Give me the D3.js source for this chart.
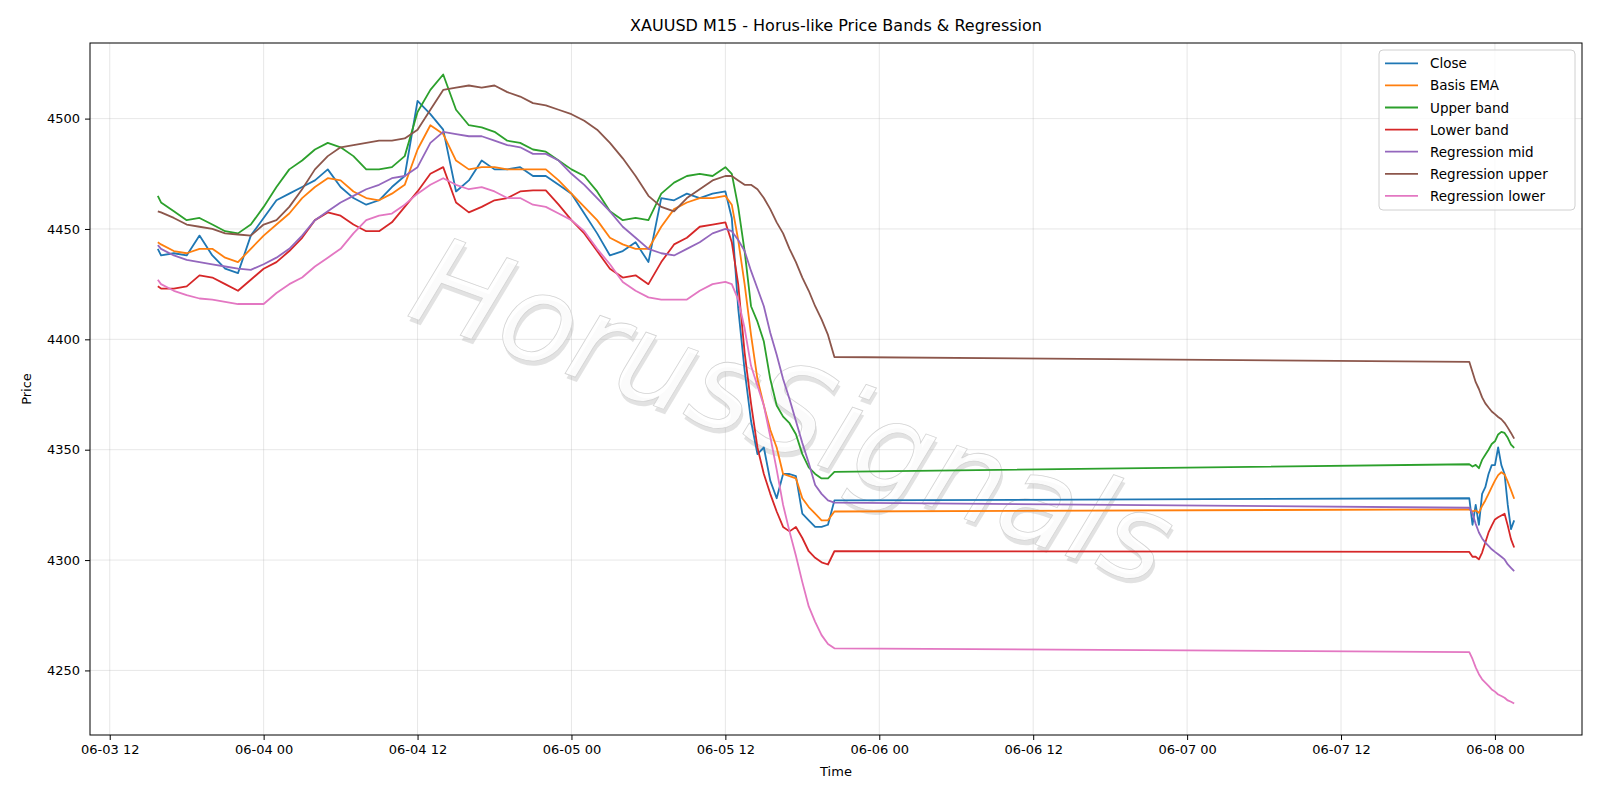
<!DOCTYPE html>
<html><head><meta charset="utf-8">
<script src="https://cdn.jsdelivr.net/npm/d3@7"></script>
<style>body{margin:0;background:#fff}svg{font-family:"DejaVu Sans",sans-serif}</style>
</head><body><svg id="c" width="1600" height="800"></svg>
<script>
// ---- data ----
const seriesNames = ["Close","Basis EMA","Upper band","Lower band","Regression mid","Regression upper","Regression lower"];
const seriesColors = ["#1f77b4","#ff7f0e","#2ca02c","#d62728","#9467bd","#8c564b","#e377c2"];
const xTickLabels = ["06-03 12","06-04 00","06-04 12","06-05 00","06-05 12","06-06 00","06-06 12","06-07 00","06-07 12","06-08 00"];
const yTicks = [4250,4300,4350,4400,4450,4500];
// segment 1: 06-03 15:45, hourly 16:00..06-05 12:00, half-hourly to 20:30 ; segment 2: 06-07 22:00..06-08 01:30 every 15 min
const seg1Start = "2025-06-03T15:45", seg1Hourly = ["2025-06-03T16:00","2025-06-05T12:00"], seg1Half = ["2025-06-05T12:30","2025-06-05T20:30"];
const seg2Range = ["2025-06-07T22:00","2025-06-08T01:30"];

const closeV = [4441,4438,4439,4438,4447,4438,4432,4430,4447,4455,4463,4466,4469,4472,4477,4469,4464,4461,4463,4469,4474,4508,4502,4495,4467,4472,4481,4477,4477,4478,4474,4474,4470,4466,4457,4448,4438,4440,4444,4435,4464,4463,4466,4464,4466,4467,
 4455,4414,4386,4363,4348,4351,4336,4328,4339,4339,4338,4321,4318,4315,4315,4316,4327,
 4328,4316,4325,4316,4330,4333,4339,4343,4343,4351,4343,4339,4325,4314,4318];
const basisV = [4444,4443,4440,4439,4441,4441,4437,4435,4441,4447,4452,4457,4464,4469,4473,4472,4467,4464,4463,4466,4470,4486,4497,4493,4481,4477,4478,4478,4477,4477,4477,4477,4472,4466,4460,4454,4446,4443,4441,4441,4451,4459,4462,4464,4464,4465,
 4461,4445,4425,4402,4382,4370,4359,4351,4339,4338,4337,4328,4324,4321,4318,4318,4322,
 4323,4322,4322.5,4321.4,4324.5,4327,4330,4333,4336,4338.5,4339.8,4338.8,4335.5,4331.7,4327.8];
const upperV = [4465,4462,4458,4454,4455,4452,4449,4448,4452,4460,4469,4477,4481,4486,4489,4487,4483,4477,4477,4478,4483,4503,4513,4520,4504,4497,4496,4494,4490,4489,4486,4485,4481,4477,4474,4467,4458,4454,4455,4454,4466,4471,4474,4475,4474,4478,
 4475,4460,4440,4415,4408,4399,4382,4370,4365,4362,4357,4348,4342,4339,4337,4337,4340,
 4343.4,4342.4,4343.1,4341.6,4345.4,4347.7,4350,4352.6,4353.8,4356.9,4358.1,4357.6,4355.4,4352.3,4350.8];
const lowerV = [4424,4423,4423,4424,4429,4428,4425,4422,4427,4432,4435,4440,4446,4454,4457.5,4456,4452,4449,4449,4453,4460,4467,4475,4478,4462,4457.5,4460,4463,4464,4467,4467.5,4467.5,4461,4454,4448,4440,4432,4428,4429,4425,4435,4443,4446,4451,4452,4453,
 4444,4425,4394,4371,4351,4339,4330,4322,4315,4313,4315,4310,4304,4301,4299,4298,4304,
 4303.7,4301.5,4301.5,4300.3,4303.4,4308,4312.5,4315.6,4318.4,4319.4,4320.2,4321,4315.6,4309.5,4305.7];
const regMidV = [4442.7,4441,4438,4436,4435,4434,4433,4432,4431.5,4434,4437,4441,4447,4454,4458,4462,4465,4468,4470,4473,4474,4478,4489,4494,4493,4492,4492,4490,4488,4487,4484,4484,4481,4475,4470,4464,4458,4451,4446,4441,4439,4438,4441,4444,4448,4450,
 4449,4445,4440,4431,4423,4415,4403,4393,4382,4373,4363,4353,4344,4334,4330,4327,4326,
 4323.7,4321,4316.4,4312.5,4309.8,4307.9,4306.4,4304.9,4303.7,4302.6,4301.5,4300.3,4298,4296.5,4295];
const regUpV = [4458,4457.5,4455,4452,4451,4450,4448,4447.5,4447,4452,4454,4460,4468,4477,4483,4487,4488,4489,4490,4490,4491,4495,4504,4513,4514,4515,4514,4515,4512,4510,4507,4506,4504,4502,4499,4495,4489,4482,4474,4465,4460,4458,4464,4468,4472,4474,
 4474,4472,4470,4470,4468,4464,4459,4453,4448,4441,4435,4428,4422,4415,4409,4402,4392,
 4389.8,4385.2,4380.6,4377.5,4373.7,4371,4369.1,4367.3,4366.1,4364.8,4363.8,4362.2,4360,4357.6,4355];
const regLoV = [4427,4425,4422,4420,4418.5,4418,4417,4416,4416,4416,4421,4425,4428,4433,4437,4441,4448,4454,4456,4457,4461,4466,4470,4473,4470,4468,4469,4467,4464,4464,4461,4460,4457,4454,4449,4441,4434,4426,4422,4419,4418,4418,4418,4422,4425,4426,
 4425,4418,4405,4388,4379,4370,4356,4341,4325,4313,4302,4290,4279,4272,4266,4262,4260,
 4258.3,4255.2,4251.4,4248.3,4246,4244.5,4243,4241.4,4240.4,4239.1,4238.4,4237.6,4236.4,4235.8,4235];
const allValues = [closeV,basisV,upperV,lowerV,regMidV,regUpV,regLoV];

// ---- times ----
const P = d3.timeParse("%Y-%m-%dT%H:%M");
const times = [P(seg1Start)]
  .concat(d3.timeHour.range(P(seg1Hourly[0]), d3.timeMinute.offset(P(seg1Hourly[1]),1)))
  .concat(d3.timeMinute.every(30).range(P(seg1Half[0]), d3.timeMinute.offset(P(seg1Half[1]),1)))
  .concat(d3.timeMinute.every(15).range(P(seg2Range[0]), d3.timeMinute.offset(P(seg2Range[1]),1)));

// ---- layout ----
const svg = d3.select("#c");
const L=90, R=1582, T=43, B=735;
const tExt = d3.extent(times), tPad=(tExt[1]-tExt[0])*0.05;
const x = d3.scaleTime().domain([+tExt[0]-tPad, +tExt[1]+tPad]).range([L,R]);
const vMin=d3.min(allValues,a=>d3.min(a)), vMax=d3.max(allValues,a=>d3.max(a)), vPad=(vMax-vMin)*0.05;
const y = d3.scaleLinear().domain([vMin-vPad, vMax+vPad]).range([B,T]);
const tickTimes = xTickLabels.map(s=>d3.timeParse("%Y-%m-%d %H")("2025-"+s));

// grid
const g = svg.append("g");
g.selectAll(".vg").data(tickTimes).join("line").attr("x1",d=>x(d)).attr("x2",d=>x(d)).attr("y1",T).attr("y2",B).attr("stroke","#b0b0b0").attr("stroke-opacity",0.3).attr("stroke-width",1);
g.selectAll(".hg").data(yTicks).join("line").attr("x1",L).attr("x2",R).attr("y1",d=>y(d)).attr("y2",d=>y(d)).attr("stroke","#b0b0b0").attr("stroke-opacity",0.3).attr("stroke-width",1);

// watermark
const wm = svg.append("g").attr("transform","translate(790,420) rotate(20)");
wm.append("text").attr("x",3).attr("y",4).attr("text-anchor","middle").attr("dominant-baseline","middle")
  .attr("font-size",122).attr("font-style","italic").attr("fill","#a0a0a0").attr("fill-opacity",0.3).text("HorusSignals");
wm.append("text").attr("text-anchor","middle").attr("dominant-baseline","middle")
  .attr("font-size",122).attr("font-style","italic").attr("fill","#ffffff").attr("fill-opacity",0.85)
  .attr("stroke","#d4d4d4").attr("stroke-width",0.8).text("HorusSignals");

// lines
const line = d3.line().x((d,i)=>x(times[i])).y(d=>y(d));
allValues.forEach((vals,k)=>{
  svg.append("path").datum(vals).attr("d",line).attr("fill","none").attr("stroke",seriesColors[k]).attr("stroke-width",1.8).attr("stroke-linejoin","round");
});

// axes
const xa = svg.append("g").attr("transform",`translate(0,${B})`).call(d3.axisBottom(x).tickValues(tickTimes).tickFormat((d,i)=>xTickLabels[i]).tickSize(5).tickPadding(5));
const ya = svg.append("g").attr("transform",`translate(${L},0)`).call(d3.axisLeft(y).tickValues(yTicks).tickFormat(d3.format("d")).tickSize(5).tickPadding(5));
[xa,ya].forEach(a=>{a.select(".domain").remove();a.selectAll("text").attr("font-size",13).attr("fill","#000").attr("font-family","DejaVu Sans");a.selectAll("line").attr("stroke","#000");});
svg.append("rect").attr("x",L).attr("y",T).attr("width",R-L).attr("height",B-T).attr("fill","none").attr("stroke","#000").attr("stroke-width",1);

// labels
svg.append("text").attr("x",(L+R)/2).attr("y",31).attr("text-anchor","middle").attr("font-size",16).text("XAUUSD M15 - Horus-like Price Bands & Regression");
svg.append("text").attr("x",(L+R)/2).attr("y",776).attr("text-anchor","middle").attr("font-size",13).text("Time");
svg.append("text").attr("transform",`translate(31,${(T+B)/2}) rotate(-90)`).attr("text-anchor","middle").attr("font-size",13).text("Price");

// legend
const lg = svg.append("g");
lg.append("rect").attr("x",1379).attr("y",50).attr("width",196).attr("height",160).attr("rx",4).attr("fill","#fff").attr("fill-opacity",0.8).attr("stroke","#d0d0d0");
seriesNames.forEach((n,i)=>{
  const yy = 63.3 + i*22.1;
  lg.append("line").attr("x1",1385).attr("x2",1418).attr("y1",yy).attr("y2",yy).attr("stroke",seriesColors[i]).attr("stroke-width",1.8);
  lg.append("text").attr("x",1430).attr("y",yy).attr("dominant-baseline","central").attr("font-size",13.5).text(n);
});
</script></body></html>
